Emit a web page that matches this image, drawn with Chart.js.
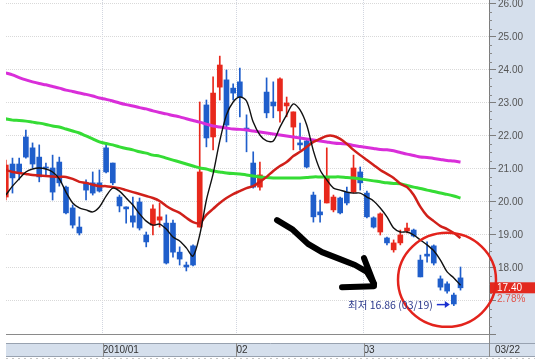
<!DOCTYPE html>
<html>
<head>
<meta charset="utf-8">
<script src="https://cdn.jsdelivr.net/npm/chart.js@4.4.1/dist/chart.umd.min.js"></script>
<style>
  html, body { margin: 0; padding: 0; background: #fff; }
  #chart { display: block; }
</style>
</head>
<body>
<canvas id="chart" width="535" height="360"></canvas>
<script>
// daily candles, last ~70 sessions up to 03/22 (index 0 = first visible day)
const openPrices = [20.15, 21.15, 21.15, 21.97, 21.64, 21.36, 21.06, 21.03, 21.21, 20.45,
  19.82, 19.24, 20.58, 20.58, 20.58, 21.64, 21.18, 20.15, 19.85, 19.58,
  20.00, 19.00, 19.30, 19.45, 19.36, 19.36, 18.48, 18.09, 18.67, 19.24,
  22.94, 21.97, 23.48, 23.70, 23.45, 23.64, 22.24, 21.18, 20.45, 23.33,
  23.03, 22.76, 22.91, 22.27, 21.79, 21.85, 20.21, 19.70, 19.97, 19.76,
  20.12, 20.30, 20.30, 20.91, 20.27, 19.52, 19.09, 18.91, 18.55, 18.76,
  19.12, 19.15, 18.24, 18.42, 18.67, 17.67, 17.52, 17.18, 17.70];
const highPrices = [21.27, 21.33, 21.33, 22.18, 21.79, 21.73, 21.18, 21.42, 21.36, 20.48,
  19.91, 19.55, 20.67, 20.91, 20.97, 21.79, 21.18, 20.21, 19.85, 20.15,
  20.12, 19.09, 19.91, 19.97, 19.61, 19.45, 18.64, 18.18, 18.70, 23.03,
  23.09, 23.79, 24.42, 24.00, 23.58, 24.06, 22.64, 21.52, 21.21, 23.76,
  23.64, 23.76, 23.18, 22.73, 22.39, 21.88, 20.30, 20.06, 21.64, 20.21,
  20.15, 20.45, 21.42, 21.06, 20.33, 19.55, 19.67, 18.94, 18.85, 19.15,
  19.36, 19.18, 18.39, 18.79, 18.70, 17.76, 17.58, 17.24, 18.03];
const lowPrices = [20.06, 20.27, 20.67, 21.33, 21.03, 20.61, 20.82, 20.06, 20.48, 19.64,
  19.21, 19.00, 20.06, 20.21, 20.30, 20.88, 20.52, 19.70, 19.36, 19.24,
  19.15, 18.64, 19.00, 19.24, 18.12, 18.33, 18.09, 17.91, 18.06, 19.24,
  21.67, 21.58, 23.09, 21.82, 23.09, 22.58, 21.52, 20.42, 20.36, 22.55,
  22.55, 22.42, 22.58, 21.58, 21.58, 21.03, 19.39, 19.39, 19.97, 19.70,
  19.64, 19.91, 20.27, 20.36, 19.52, 19.21, 19.00, 18.70, 18.48, 18.70,
  19.06, 18.94, 17.73, 18.18, 18.09, 17.33, 17.24, 16.86, 17.33];
const closePrices = [21.12, 20.73, 20.91, 21.36, 21.15, 20.76, 21.03, 20.30, 20.58, 19.67,
  19.30, 19.06, 20.36, 20.27, 20.33, 20.91, 20.58, 19.88, 19.79, 19.39,
  19.21, 18.79, 19.79, 19.55, 18.15, 18.48, 18.27, 18.03, 18.09, 20.91,
  21.94, 23.30, 24.15, 22.33, 23.30, 23.18, 22.18, 20.45, 20.82, 22.70,
  22.91, 23.73, 23.00, 22.73, 21.73, 21.06, 19.55, 19.61, 20.76, 20.15,
  19.67, 19.97, 21.03, 20.58, 19.55, 19.24, 19.64, 18.76, 18.76, 19.00,
  19.21, 18.97, 17.73, 18.36, 18.15, 17.42, 17.30, 16.91, 17.40];

// moving averages (5, 20, 60, 120 days)
const ma5 = [20.21, 20.48, 20.70, 20.91, 21.00, 21.03, 21.00, 20.91, 20.70, 20.30,
  19.97, 19.82, 19.76, 19.70, 19.85, 20.18, 20.42, 20.33, 20.12, 19.91,
  19.64, 19.42, 19.30, 19.33, 19.18, 18.94, 18.82, 18.61, 18.36, 19.00,
  20.06, 20.85, 21.85, 22.64, 23.03, 23.18, 23.06, 22.42, 22.03, 21.85,
  21.85, 22.27, 22.64, 22.97, 22.79, 22.33, 21.55, 20.97, 20.67, 20.42,
  20.36, 20.30, 20.27, 20.27, 20.15, 20.03, 19.82, 19.55, 19.21, 19.09,
  19.09, 19.00, 18.85, 18.70, 18.52, 18.24, 17.88, 17.70, 17.48];
const ma20 = [20.97, 20.91, 20.88, 20.85, 20.82, 20.80, 20.79, 20.77, 20.76, 20.76,
  20.70, 20.61, 20.58, 20.52, 20.48, 20.48, 20.45, 20.42, 20.36, 20.30,
  20.24, 20.18, 20.12, 20.03, 19.88, 19.76, 19.67, 19.52, 19.39, 19.36,
  19.61, 19.79, 19.97, 20.12, 20.24, 20.33, 20.42, 20.48, 20.61, 20.76,
  20.94, 21.09, 21.21, 21.39, 21.52, 21.67, 21.82, 21.91, 22.00, 22.00,
  21.91, 21.76, 21.58, 21.42, 21.27, 21.12, 20.97, 20.85, 20.73, 20.55,
  20.45, 20.21, 19.85, 19.58, 19.42, 19.27, 19.18, 19.06, 18.91];
const ma60 = [22.52, 22.48, 22.47, 22.45, 22.42, 22.39, 22.35, 22.30, 22.27, 22.21,
  22.15, 22.09, 22.00, 21.91, 21.82, 21.77, 21.73, 21.67, 21.62, 21.58,
  21.52, 21.48, 21.42, 21.39, 21.33, 21.27, 21.21, 21.15, 21.09, 21.03,
  21.00, 20.94, 20.91, 20.88, 20.86, 20.85, 20.82, 20.79, 20.76, 20.74,
  20.73, 20.73, 20.73, 20.73, 20.73, 20.74, 20.76, 20.76, 20.76, 20.76,
  20.76, 20.74, 20.73, 20.70, 20.67, 20.64, 20.61, 20.58, 20.56, 20.55,
  20.50, 20.45, 20.41, 20.36, 20.32, 20.27, 20.23, 20.18, 20.12];
const ma120 = [23.91, 23.85, 23.77, 23.70, 23.64, 23.59, 23.55, 23.50, 23.45, 23.39,
  23.35, 23.30, 23.26, 23.21, 23.15, 23.11, 23.06, 23.00, 22.95, 22.91,
  22.86, 22.82, 22.76, 22.71, 22.67, 22.62, 22.58, 22.52, 22.47, 22.42,
  22.36, 22.30, 22.27, 22.24, 22.21, 22.20, 22.18, 22.15, 22.12, 22.09,
  22.06, 22.03, 22.00, 21.97, 21.94, 21.91, 21.88, 21.85, 21.82, 21.79,
  21.77, 21.76, 21.71, 21.68, 21.65, 21.62, 21.59, 21.58, 21.55, 21.50,
  21.45, 21.41, 21.36, 21.35, 21.32, 21.29, 21.26, 21.24, 21.21];

// month boundaries sit between sessions
const monthTicks = [14.5, 34.5, 53.5];
const monthLabels = ['2010/01', '02', '03'];
const priceTicks = [16, 17, 18, 19, 20, 21, 22, 23, 24, 25, 26];
const lastDate = '03/22';
const lowDate = '03/19';
const changeText = '2.78%';

// hand drawn marks, in (session, price)
const handArrow = [[40.56, 19.45], [42.8, 19.18], [45.19, 18.73], [47.29, 18.48],
  [49.98, 18.27], [52.22, 18.09], [54.01, 17.88], [55.06, 17.52]];
const handArrowHead1 = [[53.57, 18.30], [55.06, 17.52]];
const handArrowHead2 = [[50.28, 17.42], [55.06, 17.45]];
const circleCenter = [65.98, 17.64];

const upColor = '#e8281c';
const downColor = '#1f5ecb';
const axisBg = '#d5dfec';
const axisFont = { family: 'Liberation Sans', size: 10 };

const idx = openPrices.map((_, i) => i);
const candleColors = idx.map(i => closePrices[i] >= openPrices[i] ? upColor : downColor);
const toPoints = arr => arr.map((v, i) => ({ x: i, y: v }));

const chartFrame = {
  id: 'chartFrame',
  beforeDraw(chart) {
    const { ctx, chartArea: a, width, height } = chart;
    ctx.save();
    ctx.fillStyle = '#ffffff';
    ctx.fillRect(0, 0, width, height);
    ctx.fillStyle = axisBg;
    ctx.fillRect(a.right, 0, width - a.right, 357);
    ctx.fillRect(a.left, 343, a.right - a.left, 14);
    ctx.strokeStyle = '#98a2b0';
    ctx.lineWidth = 1;
    ctx.beginPath();
    ctx.moveTo(a.left, 343.5); ctx.lineTo(width, 343.5);
    ctx.moveTo(a.left, 356.5); ctx.lineTo(width, 356.5);
    ctx.stroke();
    // ruler marks under the date band
    ctx.setLineDash([2, 4]);
    ctx.strokeStyle = '#c4c4c4';
    ctx.beginPath(); ctx.moveTo(a.left, 358.5); ctx.lineTo(width, 358.5); ctx.stroke();
    ctx.restore();
  },
  afterDraw(chart) {
    const { ctx, chartArea: a, scales: { x, y } } = chart;
    const px = v => x.getPixelForValue(v);
    const py = v => y.getPixelForValue(v);
    ctx.save();

    // plot bottom line, axis separator, minor price ticks, month separators
    ctx.strokeStyle = '#8a8a8a';
    ctx.lineWidth = 1;
    ctx.beginPath();
    ctx.moveTo(a.left, a.bottom + 0.5); ctx.lineTo(a.right, a.bottom + 0.5);
    ctx.moveTo(a.right + 0.5, a.bottom); ctx.lineTo(a.right + 0.5, 357);
    for (let v = 16.25; v < 26.2; v += 0.25) {
      if (Math.abs(v - Math.round(v)) < 0.01) continue;
      const yy = Math.round(py(v)) + 0.5;
      ctx.moveTo(a.right, yy); ctx.lineTo(a.right + 3, yy);
    }
    monthTicks.forEach(t => {
      const xx = Math.round(px(t)) + 0.5;
      ctx.moveTo(xx, 343); ctx.lineTo(xx, 357);
    });
    ctx.stroke();

    // last price tag
    const last = closePrices[closePrices.length - 1];
    const ly = py(last);
    ctx.fillStyle = '#e3291f';
    ctx.fillRect(a.right + 1, ly - 5.5, 46, 11);
    ctx.font = '10px "Liberation Sans"';
    ctx.textBaseline = 'middle';
    ctx.textAlign = 'left';
    ctx.fillStyle = '#ffffff';
    ctx.fillText(last.toFixed(2), a.right + 8, ly);
    ctx.fillStyle = '#e0564e';
    ctx.fillText(changeText, a.right + 8, ly + 11);
    ctx.fillStyle = '#333333';
    ctx.fillText(lastDate, a.right + 6, 350);

    // hand drawn arrow
    ctx.strokeStyle = '#000000';
    ctx.lineWidth = 6;
    ctx.lineCap = 'round';
    ctx.lineJoin = 'round';
    [handArrow, handArrowHead1, handArrowHead2].forEach(path => {
      ctx.beginPath();
      path.forEach(([i, p], k) => k ? ctx.lineTo(px(i), py(p)) : ctx.moveTo(px(i), py(p)));
      ctx.stroke();
    });

    // red circle
    ctx.strokeStyle = '#e3231c';
    ctx.lineWidth = 2.5;
    ctx.beginPath();
    ctx.ellipse(px(circleCenter[0]), py(circleCenter[1]), 49, 47, 0, 0, Math.PI * 2);
    ctx.stroke();

    // lowest price marker
    const lowVal = Math.min(...lowPrices);
    const lowIdx = lowPrices.indexOf(lowVal);
    const ax = px(lowIdx) - 4;
    const ay = py(lowVal) - 1;
    ctx.strokeStyle = '#1a2fd0';
    ctx.fillStyle = '#1a2fd0';
    ctx.lineWidth = 1.5;
    ctx.lineCap = 'butt';
    ctx.beginPath(); ctx.moveTo(ax - 13, ay); ctx.lineTo(ax - 3, ay); ctx.stroke();
    ctx.beginPath(); ctx.moveTo(ax, ay); ctx.lineTo(ax - 5, ay - 3.5); ctx.lineTo(ax - 5, ay + 3.5); ctx.closePath(); ctx.fill();
    ctx.font = '10.5px "Noto Sans CJK KR"';
    ctx.textAlign = 'right';
    ctx.fillStyle = '#2d3a8c';
    ctx.fillText('최저 ' + lowVal.toFixed(2) + ' (' + lowDate + ')', ax - 17, ay);
    ctx.restore();
  }
};

new Chart(document.getElementById('chart'), {
  type: 'line',
  data: {
    datasets: [
      { label: 'MA5', data: toPoints(ma5), borderColor: '#111111', borderWidth: 1.4,
        pointRadius: 0, tension: 0.3, order: 0, clip: 0 },
      { label: 'MA20', data: toPoints(ma20), borderColor: '#d0201a', borderWidth: 2.5,
        pointRadius: 0, tension: 0.3, order: 1, clip: 0 },
      { label: 'MA60', data: toPoints(ma60), borderColor: '#35dc35', borderWidth: 3,
        pointRadius: 0, tension: 0.3, order: 2, clip: 0 },
      { label: 'MA120', data: toPoints(ma120), borderColor: '#d92ed9', borderWidth: 3,
        pointRadius: 0, tension: 0.3, order: 3, clip: 0 },
      { type: 'bar', label: 'body', data: idx.map(i => ({ x: i, y: [openPrices[i], closePrices[i]] })),
        backgroundColor: candleColors, barThickness: 5, grouped: false, borderWidth: 0, order: 4, clip: 0 },
      { type: 'bar', label: 'wick', data: idx.map(i => ({ x: i, y: [lowPrices[i], highPrices[i]] })),
        backgroundColor: candleColors, barThickness: 1, grouped: false, borderWidth: 0, order: 5, clip: 0 }
    ]
  },
  options: {
    responsive: false,
    animation: false,
    events: [],
    layout: { padding: { left: 6, right: 0, top: 0, bottom: 0 } },
    plugins: { legend: { display: false }, tooltip: { enabled: false } },
    scales: {
      x: {
        type: 'linear', min: 0.03, max: 72.26, bounds: 'data', offset: false,
        afterBuildTicks: s => { s.ticks = monthTicks.map(v => ({ value: v })); },
        afterFit: s => { s.height = 26; s.paddingLeft = 0; s.paddingRight = 0; },
        ticks: { autoSkip: false, maxRotation: 0, align: 'start', padding: 10, color: '#333333',
          font: axisFont, callback: (v, i) => monthLabels[i] },
        grid: { offset: false, color: '#d2d6e0', drawTicks: false },
        border: { display: false, dash: [1, 1] }
      },
      y: {
        position: 'right', min: 16, max: 26.12, bounds: 'data',
        afterBuildTicks: s => { s.ticks = priceTicks.map(v => ({ value: v })); },
        afterFit: s => { s.width = 46; s.paddingTop = 0; s.paddingBottom = 0; },
        ticks: { padding: 2, color: '#555555', font: axisFont,
          callback: v => v >= 18 ? v.toFixed(2) : '' },
        grid: { color: '#d9d9d9', tickColor: '#7d7d7d', tickLength: 7 },
        border: { color: '#7d7d7d', dash: [1, 1] }
      }
    }
  },
  plugins: [chartFrame]
});
</script>
</body>
</html>
